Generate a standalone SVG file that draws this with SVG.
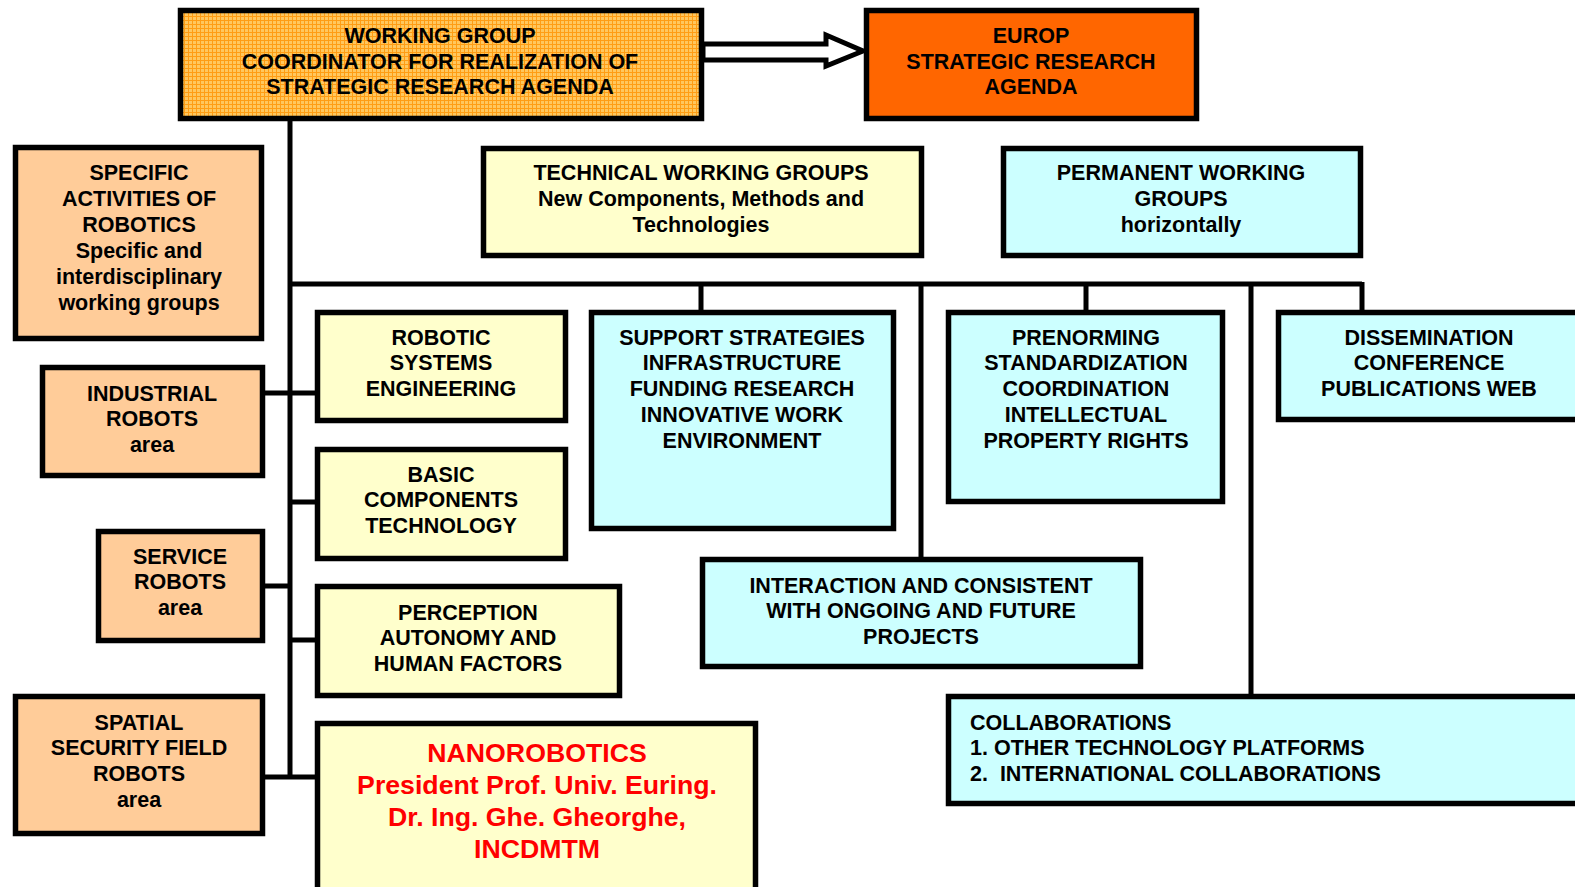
<svg xmlns="http://www.w3.org/2000/svg" width="1575" height="887" viewBox="0 0 1575 887">
<style>
.box{stroke:#000;stroke-width:5.5}
.peach{fill:#FFCC99}
.yel{fill:#FFFFCC}
.cyan{fill:#CCFFFF}
.t{font-family:"Liberation Sans",Arial,sans-serif;font-weight:bold;font-size:21.5px;fill:#000;text-anchor:middle}
.l{text-anchor:start}
.red{fill:#FF0000;font-size:26.7px}
.conn{stroke:#000;stroke-width:5;fill:none}
</style>
<defs>
<pattern id="grid" width="4" height="4" patternUnits="userSpaceOnUse">
<rect width="4" height="4" fill="#FFC75E"/>
<path d="M0 0.5H4M0.5 0V4" stroke="#FF9D14" stroke-width="1"/>
</pattern>
</defs>
<rect width="1575" height="887" fill="#fff"/>
<g id="connectors">
<path class="conn" d="M290 121V779"/>
<path class="conn" d="M288 284H1362"/>
<path class="conn" d="M701 284V312M1086 284V312M1362 282V312M921 284V559M1251 284V696"/>
<path class="conn" d="M263 393H317M290 502H317M263 586H290M290 640H317M263 777H317"/>
<polygon points="703,44 826,44 826,35 863,51 826,66 826,60 703,60" fill="#fff" stroke="#000" stroke-width="5"/>
</g>
<g id="coordinator">
<rect class="box" x="180.5" y="10.5" width="521" height="108" fill="url(#grid)"/>
<text class="t" x="440" y="42.5">WORKING GROUP</text>
<text class="t" x="440" y="68.5">COORDINATOR FOR REALIZATION OF</text>
<text class="t" x="440" y="94">STRATEGIC RESEARCH AGENDA</text>
</g>
<g id="europ">
<rect class="box" x="866.5" y="10.5" width="330" height="108" fill="#FF6600"/>
<text class="t" x="1031" y="42.5">EUROP</text>
<text class="t" x="1031" y="68.5">STRATEGIC RESEARCH</text>
<text class="t" x="1031" y="94">AGENDA</text>
</g>
<g id="specific">
<rect class="box peach" x="15.5" y="147.5" width="246" height="191"/>
<text class="t" x="139" y="179.5">SPECIFIC</text>
<text class="t" x="139" y="205.5">ACTIVITIES OF</text>
<text class="t" x="139" y="231.5">ROBOTICS</text>
<text class="t" x="139" y="257.5">Specific and</text>
<text class="t" x="139" y="283.5">interdisciplinary</text>
<text class="t" x="139" y="309.5">working groups</text>
</g>
<g id="technical">
<rect class="box yel" x="483.5" y="148.5" width="438" height="107"/>
<text class="t" x="701" y="179.5">TECHNICAL WORKING GROUPS</text>
<text class="t" x="701" y="205.5">New Components, Methods and</text>
<text class="t" x="701" y="231.5">Technologies</text>
</g>
<g id="permanent">
<rect class="box cyan" x="1003.5" y="148.5" width="357" height="107"/>
<text class="t" x="1181" y="179.5">PERMANENT WORKING</text>
<text class="t" x="1181" y="205.5">GROUPS</text>
<text class="t" x="1181" y="231.5">horizontally</text>
</g>
<g id="robotic">
<rect class="box yel" x="317.5" y="312.5" width="248" height="108"/>
<text class="t" x="441" y="344.5">ROBOTIC</text>
<text class="t" x="441" y="370.3">SYSTEMS</text>
<text class="t" x="441" y="396.1">ENGINEERING</text>
</g>
<g id="support">
<rect class="box cyan" x="591.5" y="312.5" width="302" height="216"/>
<text class="t" x="742" y="344.5">SUPPORT STRATEGIES</text>
<text class="t" x="742" y="370.3">INFRASTRUCTURE</text>
<text class="t" x="742" y="396.1">FUNDING RESEARCH</text>
<text class="t" x="742" y="421.9">INNOVATIVE WORK</text>
<text class="t" x="742" y="447.7">ENVIRONMENT</text>
</g>
<g id="prenorming">
<rect class="box cyan" x="948.5" y="312.5" width="274" height="189"/>
<text class="t" x="1086" y="344.5">PRENORMING</text>
<text class="t" x="1086" y="370.3">STANDARDIZATION</text>
<text class="t" x="1086" y="396.1">COORDINATION</text>
<text class="t" x="1086" y="421.9">INTELLECTUAL</text>
<text class="t" x="1086" y="447.7">PROPERTY RIGHTS</text>
</g>
<g id="dissemination">
<rect class="box cyan" x="1278.5" y="312.5" width="310" height="107"/>
<text class="t" x="1429" y="344.5">DISSEMINATION</text>
<text class="t" x="1429" y="370.3">CONFERENCE</text>
<text class="t" x="1429" y="396.1">PUBLICATIONS WEB</text>
</g>
<g id="industrial">
<rect class="box peach" x="42.5" y="367.5" width="220" height="108"/>
<text class="t" x="152" y="400.5">INDUSTRIAL</text>
<text class="t" x="152" y="426.3">ROBOTS</text>
<text class="t" x="152" y="452">area</text>
</g>
<g id="basic">
<rect class="box yel" x="317.5" y="449.5" width="248" height="109"/>
<text class="t" x="441" y="481.5">BASIC</text>
<text class="t" x="441" y="507.3">COMPONENTS</text>
<text class="t" x="441" y="533">TECHNOLOGY</text>
</g>
<g id="service">
<rect class="box peach" x="98.5" y="531.5" width="164" height="109"/>
<text class="t" x="180" y="563.5">SERVICE</text>
<text class="t" x="180" y="589.3">ROBOTS</text>
<text class="t" x="180" y="615">area</text>
</g>
<g id="interaction">
<rect class="box cyan" x="702.5" y="559.5" width="438" height="107"/>
<text class="t" x="921" y="592.5">INTERACTION AND CONSISTENT</text>
<text class="t" x="921" y="618.3">WITH ONGOING AND FUTURE</text>
<text class="t" x="921" y="644">PROJECTS</text>
</g>
<g id="perception">
<rect class="box yel" x="317.5" y="586.5" width="302" height="109"/>
<text class="t" x="468" y="619.5">PERCEPTION</text>
<text class="t" x="468" y="645.3">AUTONOMY AND</text>
<text class="t" x="468" y="671">HUMAN FACTORS</text>
</g>
<g id="spatial">
<rect class="box peach" x="15.5" y="696.5" width="247" height="137"/>
<text class="t" x="139" y="729.5">SPATIAL</text>
<text class="t" x="139" y="755.3">SECURITY FIELD</text>
<text class="t" x="139" y="781">ROBOTS</text>
<text class="t" x="139" y="806.8">area</text>
</g>
<g id="nanorobotics">
<rect class="box yel" x="317.5" y="723.5" width="438" height="180"/>
<text class="t red" x="537" y="761.5">NANOROBOTICS</text>
<text class="t red" x="537" y="793.5">President Prof. Univ. Euring.</text>
<text class="t red" x="537" y="826">Dr. Ing. Ghe. Gheorghe,</text>
<text class="t red" x="537" y="858">INCDMTM</text>
</g>
<g id="collaborations">
<rect class="box cyan" x="948.5" y="696.5" width="640" height="107"/>
<text class="t l" x="970" y="729.5">COLLABORATIONS</text>
<text class="t l" x="970" y="755.3">1. OTHER TECHNOLOGY PLATFORMS</text>
<text class="t l" x="970" y="781" xml:space="preserve">2.  INTERNATIONAL COLLABORATIONS</text>
</g>
</svg>
